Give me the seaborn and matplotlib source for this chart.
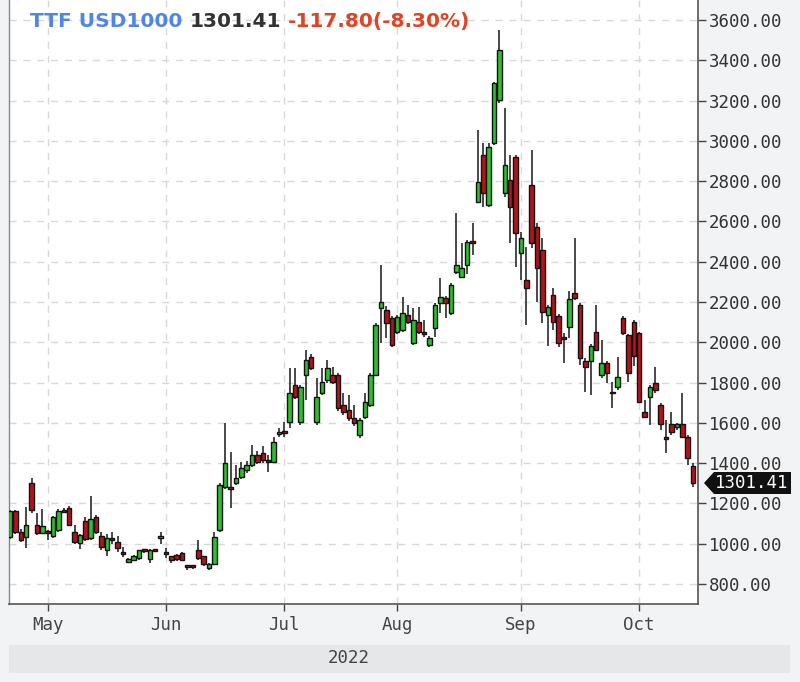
import numpy as np
import pandas as pd
import matplotlib
matplotlib.use("Agg")
import matplotlib.pyplot as plt
from matplotlib.patches import Polygon, Rectangle
import seaborn as sns

# ---------------- data ----------------
opens = [1035, 1160, 1060, 1035, 1300, 1093, 1055, 1060, 1040, 1068,
         1168, 1176, 1060, 1003, 1110, 1027, 1131, 1039, 966, 1030,
         1010, 955, 911, 920, 928, 968, 923, 968, 1030, 960,
         936, 945, 955, 888, 886, 970, 936, 880, 900, 1068,
         1283, 1280, 1300, 1333, 1366, 1390, 1440, 1448, 1410, 1407,
         1545, 1556, 1606, 1788, 1606, 1837, 1928, 1606, 1746, 1813,
         1837, 1837, 1688, 1663, 1622, 1540, 1630, 1688, 1837, 2169,
         2161, 2119, 2053, 2061, 2136, 1995, 2103, 2048, 1987, 2070,
         2194, 2218, 2144, 2351, 2326, 2384, 2500, 2698, 2930, 2681,
         2988, 3203, 2740, 2806, 2921, 2442, 2310, 2781, 2574, 2459,
         2135, 2235, 2130, 2020, 2077, 2243, 2185, 1908, 1908, 2052,
         1837, 1899, 1750, 1776, 2122, 2036, 2102, 2044, 1656, 1727,
         1796, 1689, 1525, 1594, 1578, 1594, 1531, 1386]
highs = [1165, 1165, 1075, 1184, 1325, 1150, 1170, 1070, 1135, 1170,
         1175, 1185, 1090, 1050, 1130, 1237, 1140, 1060, 1050, 1060,
         1040, 985, 930, 945, 970, 975, 975, 972, 1060, 980,
         940, 950, 960, 895, 892, 1020, 940, 905, 1060, 1300,
         1598, 1457, 1390, 1407, 1410, 1490, 1460, 1485, 1440, 1530,
         1575, 1606, 1870, 1870, 1790, 1961, 1940, 1821, 1870, 1912,
         1879, 1845, 1746, 1738, 1690, 1625, 1746, 1845, 2095, 2384,
         2180, 2130, 2135, 2227, 2185, 2170, 2174, 2111, 2030, 2195,
         2318, 2230, 2295, 2641, 2492, 2510, 2591, 3054, 2988, 2990,
         3295, 3550, 3162, 2930, 2930, 2550, 2475, 2955, 2590, 2516,
         2185, 2268, 2140, 2045, 2256, 2516, 2195, 1920, 1990, 2185,
         2011, 1905, 1804, 1928, 2130, 2040, 2110, 2050, 1713, 1790,
         1879, 1700, 1614, 1656, 1600, 1750, 1540, 1400]
lows = [1025, 1050, 1010, 977, 1150, 1045, 1050, 1020, 1030, 1060,
        1150, 1090, 1000, 975, 1015, 1020, 1050, 970, 940, 1000,
        960, 935, 905, 915, 920, 955, 905, 960, 1000, 930,
        905, 915, 915, 870, 872, 920, 890, 870, 895, 1060,
        1270, 1176, 1290, 1320, 1350, 1380, 1395, 1400, 1358, 1400,
        1530, 1531, 1573, 1720, 1590, 1713, 1860, 1590, 1740, 1800,
        1795, 1660, 1640, 1610, 1585, 1523, 1620, 1680, 1830, 1995,
        2020, 1978, 2040, 2050, 2090, 1985, 2040, 2028, 1978, 2028,
        2144, 2120, 2135, 2340, 2320, 2340, 2434, 2690, 2673, 2673,
        2980, 3190, 2720, 2491, 2376, 2310, 2086, 2470, 2201, 2094,
        1980, 2061, 1978, 1895, 2020, 2210, 1887, 1755, 1738, 1955,
        1825, 1800, 1672, 1765, 2036, 1804, 1880, 1700, 1625, 1589,
        1750, 1565, 1449, 1540, 1565, 1525, 1391, 1283]
closes = [1160, 1060, 1020, 1093, 1168, 1055, 1085, 1055, 1130, 1164,
          1155, 1093, 1010, 1044, 1022, 1120, 1060, 982, 1027, 1020,
          977, 948, 925, 940, 966, 964, 966, 965, 1035, 946,
          920, 925, 920, 884, 883, 928, 900, 900, 1035, 1291,
          1402, 1270, 1325, 1374, 1390, 1440, 1407, 1415, 1405, 1507,
          1552, 1550, 1746, 1730, 1779, 1912, 1870, 1730, 1804, 1870,
          1804, 1672, 1655, 1622, 1597, 1614, 1705, 1837, 2086, 2202,
          2094, 1987, 2127, 2144, 2103, 2111, 2053, 2042, 2020, 2185,
          2227, 2194, 2285, 2384, 2368, 2500, 2492, 2797, 2739, 2971,
          3286, 3451, 2880, 2673, 2541, 2516, 2268, 2491, 2367, 2150,
          2173, 2102, 1998, 2015, 2213, 2218, 1920, 1876, 1981, 1962,
          1899, 1846, 1746, 1829, 2044, 1846, 1932, 1705, 1631, 1780,
          1763, 1594, 1520, 1553, 1594, 1531, 1424, 1301.41]

trade_dates = pd.bdate_range("2022-04-21", "2022-10-17")
month_labels = ["May", "Jun", "Jul", "Aug", "Sep", "Oct"]
year_label = "2022"
y_ticks = [800, 1000, 1200, 1400, 1600, 1800, 2000, 2200, 2400,
           2600, 2800, 3000, 3200, 3400, 3600]
title_parts = ["TTF USD1000", "1301.41", "-117.80(-8.30%)"]
last_price_label = "1301.41"

# ---------------- table ----------------
df = pd.DataFrame({"date": trade_dates, "open": opens, "high": highs,
                   "low": lows, "close": closes})
df["x"] = np.arange(len(df))
df["up"] = df["close"] >= df["open"]
df["body_low"] = df[["open", "close"]].min(axis=1)
df["body_h"] = (df["close"] - df["open"]).abs().clip(lower=9)

month_pos = [df.index[(df["date"].dt.month == m)][0] for m in range(5, 11)]

# ---------------- style ----------------
sns.set_theme(style="white")
plt.rcParams["font.family"] = ["DejaVu Sans"]

W, H = 800, 682
bg = "#f2f3f5"
fig = plt.figure(figsize=(W / 100, H / 100), dpi=100, facecolor=bg)
ax = fig.add_axes([9 / W, 1 - 604 / H, 689 / W, 604 / H])
ax.set_facecolor("white")

GREEN = "#2cc02c"
RED = "#b3141a"

# wicks
ax.vlines(df["x"], df["low"], df["high"], color="#2a2a2a", lw=1.2, zorder=2)
# bodies
ax.bar(df["x"], df["body_h"], bottom=df["body_low"], width=0.84,
       color=np.where(df["up"], GREEN, RED), edgecolor="#121212",
       linewidth=1.0, zorder=3)

ax.set_xlim(-0.19, 127.93)
ax.set_ylim(700, 3700)

# grid
for yv in y_ticks:
    ax.axhline(yv, color="#d8d8d8", lw=1, ls=(0, (5, 5)), zorder=0)
for xv in month_pos:
    ax.axvline(xv, color="#d8d8d8", lw=1, ls=(0, (5, 5)), zorder=0)

# axes
ax.yaxis.tick_right()
ax.set_yticks(y_ticks)
ax.set_yticklabels([f"{v:.2f}" for v in y_ticks])
ax.set_xticks(month_pos)
ax.set_xticklabels(month_labels)
mono = "DejaVu Sans Mono"
ax.tick_params(axis="y", which="both", right=True, left=False, length=6,
               width=1, color="#444", labelsize=12.5, labelcolor="#333",
               pad=2)
ax.tick_params(axis="x", which="both", bottom=True, length=5, width=1,
               color="#444", labelsize=12.5, labelcolor="#444", pad=4)
for lab in ax.get_yticklabels() + ax.get_xticklabels():
    lab.set_fontfamily(mono)

for side in ["right", "bottom"]:
    ax.spines[side].set_visible(True)
    ax.spines[side].set_color("#555")
    ax.spines[side].set_linewidth(1.2)
ax.spines["left"].set_color("#888")
ax.spines["left"].set_linewidth(1)
ax.spines["top"].set_visible(False)

# year band
fig.patches.append(Rectangle((9 / W, 1 - 673 / H), 781 / W, 28 / H,
                             transform=fig.transFigure, facecolor="#e6e7e9",
                             edgecolor="none", zorder=0))
fig.text(349 / W, 1 - 658 / H, year_label, ha="center", va="center",
         fontsize=12.5, color="#444", family=mono)

# last price tag
ty = 1 - 483 / H
poly = Polygon([(704 / W, ty), (714 / W, 1 - 472 / H), (791 / W, 1 - 472 / H),
                (791 / W, 1 - 494 / H), (714 / W, 1 - 494 / H)],
               closed=True, transform=fig.transFigure, facecolor="#111",
               edgecolor="none", zorder=5)
fig.patches.append(poly)
fig.text(752 / W, ty, last_price_label, ha="center", va="center",
         fontsize=12.5, color="white", family=mono, zorder=6)

# title, three colours
fig.canvas.draw()
rend = fig.canvas.get_renderer()
x0 = 30
for txt, col in zip(title_parts, ["#4f86e6", "#333333", "#de4426"]):
    t = fig.text(x0 / W, 1 - 27 / H, txt, color=col, fontsize=14.5,
                 fontweight="bold", ha="left", va="baseline")
    bb = t.get_window_extent(rend)
    x0 = bb.x1 + 7

fig.savefig("out.png", dpi=100, facecolor=bg)
